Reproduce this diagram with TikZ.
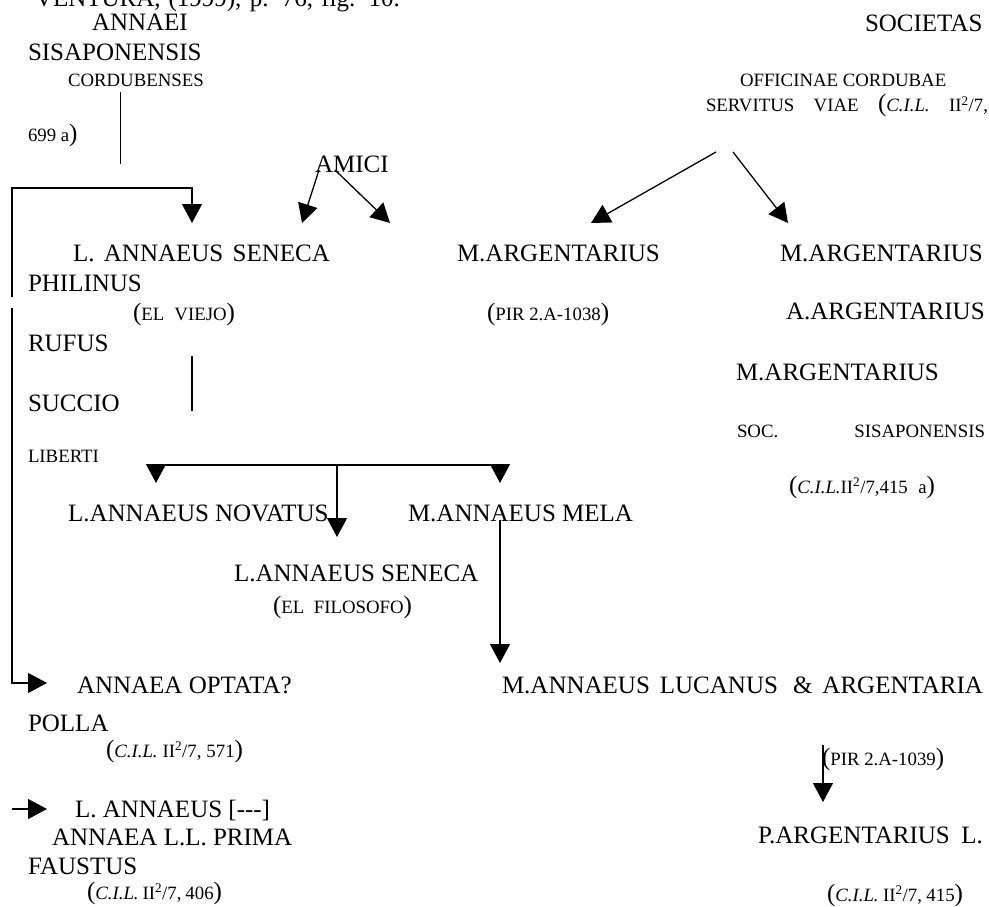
\documentclass[tikz,border=0pt]{standalone}
\usepackage{fontspec}
\setmainfont{Liberation Serif}
\usetikzlibrary{arrows.meta}
\newcommand{\fbig}{\fontsize{25}{30}\selectfont}
\newcommand{\fsml}{\fontsize{18.8}{22}\selectfont}
\newcommand{\Lpar}{{\fbig(}}
\newcommand{\Rpar}{{\fbig)}}
\newcommand{\cil}{\textit{C.I.L.}}
\newcommand{\sq}{\textsuperscript{2}}
\tikzset{
  lbl/.style={anchor=base west, inner sep=0pt, outer sep=0pt, font=\fbig},
  slbl/.style={anchor=base west, inner sep=0pt, outer sep=0pt, font=\fsml},
  conn/.style={line width=1.3pt},
  arr/.style={conn, -{Triangle[width=20pt,length=19pt]}},
}
\begin{document}
\begin{tikzpicture}[x=1pt,y=-1pt]
\useasboundingbox (0,0) rectangle (989,907);
% texts
\node[lbl] (src) at (35,7) {\makebox[365pt][s]{VENTURA, (1999), p. 76, fig. 10.}};
\node[lbl] (annaei) at (92,31) {ANNAEI};
\node[lbl] (sisap) at (28,61) {SISAPONENSIS};
\node[slbl] (cordub) at (68,87) {CORDUBENSES};
\node[slbl] (n699) at (28,142) {699 a\Rpar};
\node[lbl] (amici) at (315,172) {AMICI};
\node[lbl] (societas) at (865,32) {SOCIETAS};
\node[slbl] (offic) at (740,87) {OFFICINAE CORDUBAE};
\node[slbl] (servit) at (706,112) {\makebox[282pt][s]{SERVITUS \ VIAE \ \Lpar\cil{} \ II\sq/7,}};
\node[lbl] (seneca) at (73,261) {\makebox[257pt][s]{L. ANNAEUS SENECA}};
\node[lbl] (marg1) at (457,261) {M.ARGENTARIUS};
\node[lbl] (marg2) at (780,261) {M.ARGENTARIUS};
\node[lbl] (philinus) at (28,291) {PHILINUS};
\node[slbl] (viejo) at (133,320) {\makebox[102pt][s]{\Lpar EL VIEJO\Rpar}};
\node[slbl] (pir38) at (487,320) {\Lpar PIR 2.A-1038\Rpar};
\node[lbl] (aarg) at (786,319) {A.ARGENTARIUS};
\node[lbl] (rufus) at (28,351) {RUFUS};
\node[lbl] (marg3) at (736,380) {M.ARGENTARIUS};
\node[lbl] (succio) at (28,411) {SUCCIO};
\node[slbl] (soc) at (737,437) {\makebox[248pt][s]{SOC. \hfill SISAPONENSIS}};
\node[slbl] (liberti) at (28,462) {LIBERTI};
\node[slbl] (cil415a) at (789,493) {\makebox[146pt][s]{\Lpar\cil II\sq/7,415 a\Rpar}};
\node[lbl] (novatus) at (68,521) {L.ANNAEUS NOVATUS};
\node[lbl] (mela) at (408,521) {M.ANNAEUS MELA};
\node[lbl] (seneca2) at (234,581) {L.ANNAEUS SENECA};
\node[slbl] (filos) at (273,613) {\makebox[139pt][s]{\Lpar EL FILOSOFO\Rpar}};
\node[lbl] (optata) at (77,693) {ANNAEA OPTATA?};
\node[lbl] (lucanus) at (502,693) {\makebox[481pt][s]{M.ANNAEUS \ LUCANUS \ \ \& \ ARGENTARIA}};
\node[lbl] (polla) at (28,731) {POLLA};
\node[slbl] (cil571) at (106,757) {\makebox[137pt][s]{\Lpar\cil{} II\sq/7, 571\Rpar}};
\node[slbl] (pir39) at (822,765) {\Lpar PIR 2.A-1039\Rpar};
\node[lbl] (lann) at (75,817) {L. ANNAEUS [{-}{-}{-}]};
\node[lbl] (prima) at (52,845) {ANNAEA L.L. PRIMA};
\node[lbl] (pargl) at (758,843) {\makebox[225pt][s]{P.ARGENTARIUS L.}};
\node[lbl] (faustus) at (28,874) {FAUSTUS};
\node[slbl] (cil406) at (87,899) {\makebox[135pt][s]{\Lpar\cil{} II\sq/7, 406\Rpar}};
\node[slbl] (cil415) at (827,901) {\makebox[136pt][s]{\Lpar\cil{} II\sq/7, 415\Rpar}};
% connector points
\coordinate (cordS) at (120.7,92);
\coordinate (cordE) at (120.7,164);
\coordinate (brA) at (12,297);
\coordinate (brB) at (12,188);
\coordinate (brC) at (192,188);
\coordinate (senN) at (192,223);
\coordinate (amL) at (319,170);
\coordinate (amR) at (335,170);
\coordinate (senNE) at (302,223);
\coordinate (margNW) at (390,223);
\coordinate (ofL) at (716,152);
\coordinate (ofR) at (733,152);
\coordinate (marg1N) at (591,223);
\coordinate (marg2N) at (788,223);
\coordinate (senS) at (192,356);
\coordinate (senE) at (192,411);
\coordinate (libL) at (156,465);
\coordinate (libM) at (337,465);
\coordinate (libR) at (500,465);
\coordinate (novN) at (156,483);
\coordinate (melN) at (500,483);
\coordinate (sen2N) at (337,537);
\coordinate (melS) at (500,520);
\coordinate (lucN) at (500,663);
\coordinate (lvA) at (12,308);
\coordinate (lvB) at (12,683);
\coordinate (optW) at (47,683);
\coordinate (laS) at (12,809);
\coordinate (laW) at (47,809);
\coordinate (pirS) at (823,745);
\coordinate (pargN) at (823,802);
% connectors
\draw[conn] (cordS) -- (cordE);
\draw[arr] (brA) -- (brB) -- (brC) -- (senN);
\draw[arr] (amL) -- (senNE);
\draw[arr] (amR) -- (margNW);
\draw[arr] (ofL) -- (marg1N);
\draw[arr] (ofR) -- (marg2N);
\draw[conn] (senS) -- (senE);
\draw[conn] (libL) -- (libR);
\draw[arr] (libL) -- (novN);
\draw[arr] (libR) -- (melN);
\draw[arr] (libM) -- (sen2N);
\draw[arr] (melS) -- (lucN);
\draw[arr] (lvA) -- (lvB) -- (optW);
\draw[arr] (laS) -- (laW);
\draw[arr] (pirS) -- (pargN);
\end{tikzpicture}
\end{document}
